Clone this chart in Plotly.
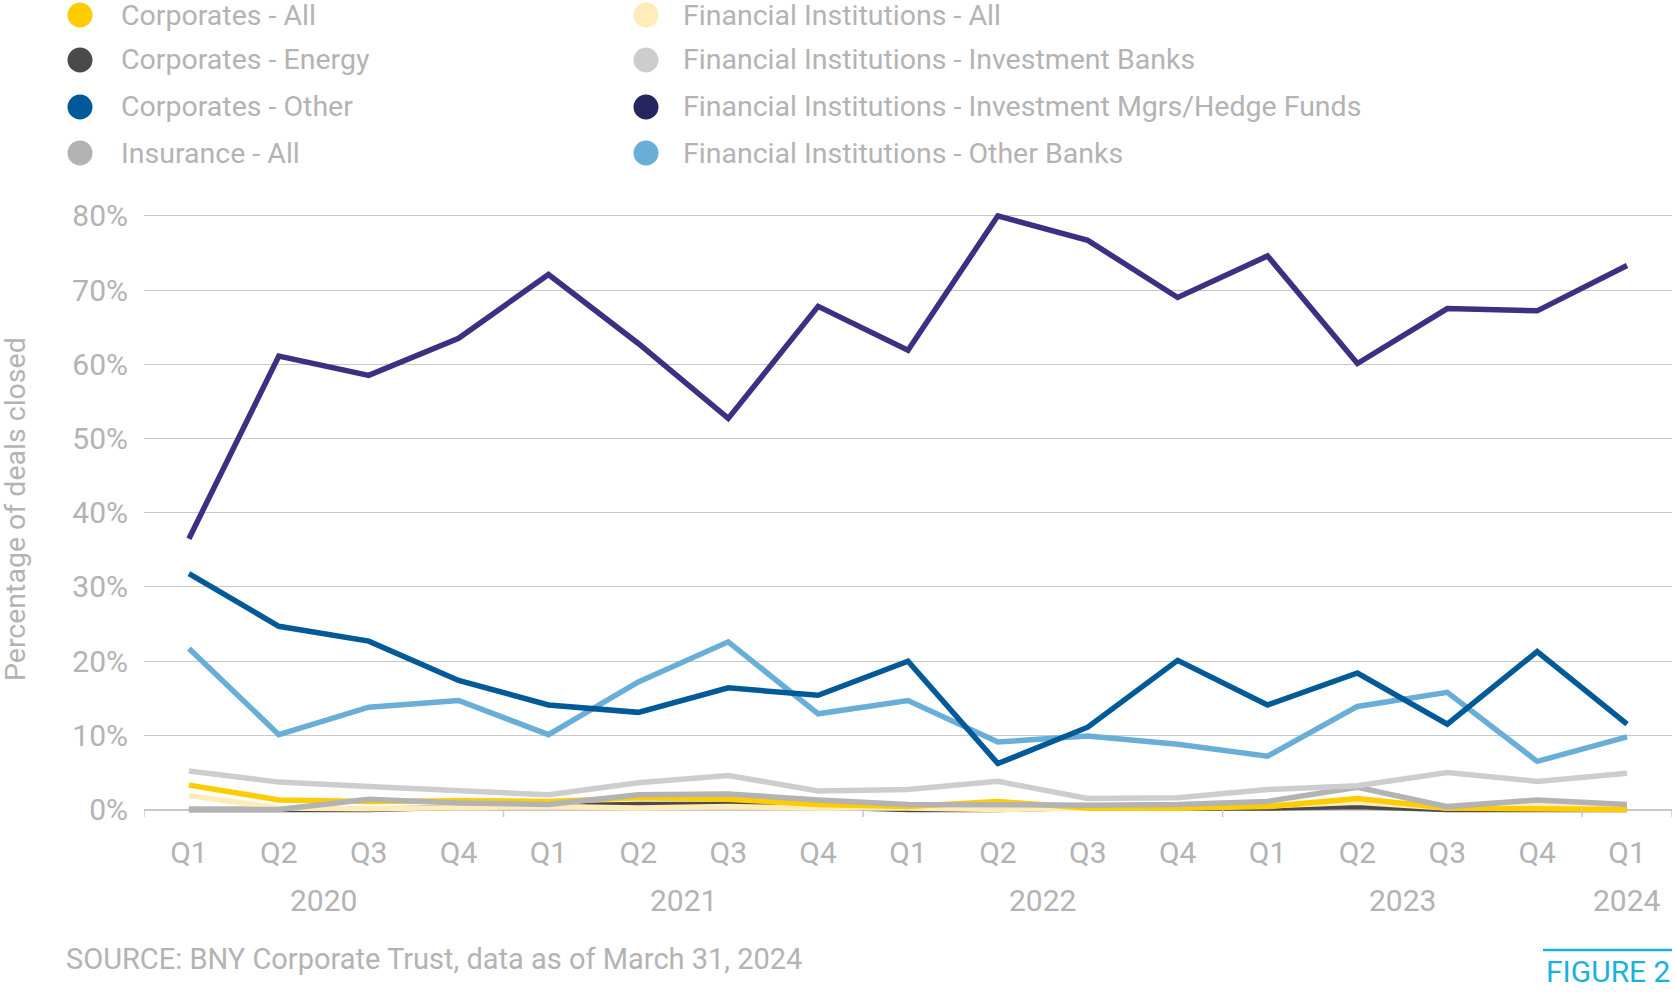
import plotly.graph_objects as go

# ---------------- data ----------------
years = ["2020", "2020", "2020", "2020",
         "2021", "2021", "2021", "2021",
         "2022", "2022", "2022", "2022",
         "2023", "2023", "2023", "2023",
         "2024"]
quarters = ["Q1", "Q2", "Q3", "Q4", "Q1", "Q2", "Q3", "Q4",
            "Q1", "Q2", "Q3", "Q4", "Q1", "Q2", "Q3", "Q4", "Q1"]

corporates_all = [3.3, 1.3, 1.1, 1.2, 1.1, 1.6, 1.4, 0.7, 0.4, 1.1, 0.2, 0.2, 0.4, 1.5, 0.2, 0.1, 0.0]
corporates_energy = [0.0, 0.0, 0.0, 0.3, 0.5, 0.7, 0.7, 0.4, 0.0, 0.0, 0.3, 0.2, 0.2, 0.4, 0.0, 0.0, 0.0]
corporates_other = [31.8, 24.7, 22.7, 17.4, 14.1, 13.1, 16.4, 15.4, 20.0, 6.2, 11.1, 20.1, 14.1, 18.4, 11.5, 21.3, 11.5]
insurance_all = [0.0, 0.0, 1.4, 0.9, 0.7, 2.0, 2.1, 1.3, 0.7, 0.6, 0.6, 0.7, 1.1, 3.0, 0.4, 1.3, 0.7]
fi_all = [1.9, 0.2, 0.1, 0.2, 0.4, 0.2, 0.4, 0.2, 0.2, 0.0, 0.2, 0.2, 0.5, 1.0, 0.2, 0.7, 0.4]
fi_investment_banks = [5.2, 3.7, 3.1, 2.6, 2.0, 3.6, 4.6, 2.5, 2.7, 3.8, 1.5, 1.6, 2.7, 3.2, 5.0, 3.8, 4.9]
fi_inv_mgrs = [36.5, 61.1, 58.5, 63.5, 72.1, 62.8, 52.7, 67.8, 61.9, 80.0, 76.7, 69.0, 74.6, 60.1, 67.5, 67.2, 73.3]
fi_other_banks = [21.7, 10.1, 13.8, 14.7, 10.1, 17.2, 22.6, 12.9, 14.7, 9.1, 9.9, 8.8, 7.2, 13.9, 15.8, 6.5, 9.8]

series_names = ["Corporates - All", "Corporates - Energy", "Corporates - Other", "Insurance - All",
                "Financial Institutions - All", "Financial Institutions - Investment Banks",
                "Financial Institutions - Investment Mgrs/Hedge Funds", "Financial Institutions - Other Banks"]
series_values = [corporates_all, corporates_energy, corporates_other, insurance_all,
                 fi_all, fi_investment_banks, fi_inv_mgrs, fi_other_banks]
line_colors = ["#ffcc00", "#4a4a4a", "#005a97", "#b3b3b3",
               "#ffecb8", "#cdcdcd", "#3a3182", "#68aed6"]
legend_colors = ["#ffcc00", "#4a4a4a", "#005a97", "#b3b3b3",
                 "#ffecb8", "#cdcdcd", "#27255f", "#68aed6"]
draw_order = [1, 4, 0, 3, 5, 7, 2, 6]

y_ticks = [0, 10, 20, 30, 40, 50, 60, 70, 80]

# ---------------- layout geometry ----------------
W, H = 1676, 992
L, R, T, B = 144, 4, 201, 175
PW, PH = W - L - R, H - T - B
FONT = "Roboto"
TXT = "#b3b3b3"
GRID = "#c8c8c8"


def px_x(px):
    return (px - L) / PW


def px_y(py):
    return (T + PH - py) / PH


x_idx = list(range(len(quarters)))

fig = go.Figure()
for i in draw_order:
    fig.add_trace(go.Scatter(
        x=x_idx, y=series_values[i], mode="lines", name=series_names[i],
        line=dict(color=line_colors[i], width=5.5), showlegend=False,
        hoverinfo="x+y+name"))

shapes = []
annotations = []

# manual legend (2 columns x 4 rows)
col_circle_x = [80, 646]
col_text_x = [119, 681]
row_y = [15, 60, 107, 153]
r = 12.5
for k, (name, color) in enumerate(zip(series_names, legend_colors)):
    c, rr = k // 4, k % 4
    cx, cy = col_circle_x[c], row_y[rr]
    shapes.append(dict(type="circle", xref="paper", yref="paper",
                       x0=px_x(cx - r), x1=px_x(cx + r),
                       y0=px_y(cy + r), y1=px_y(cy - r),
                       fillcolor=color, line=dict(width=0), layer="above"))
    annotations.append(dict(text=name, xref="paper", yref="paper",
                            x=px_x(col_text_x[c]), y=px_y(cy),
                            xanchor="left", yanchor="middle", showarrow=False,
                            font=dict(family=FONT, size=28.5, color=TXT)))

# year group labels and dividers
groups = []
for i, yv in enumerate(years):
    if not groups or groups[-1][0] != yv:
        groups.append([yv, i, i])
    else:
        groups[-1][2] = i
bounds = [groups[0][1] - 0.5] + [g[2] + 0.5 for g in groups]
for b in bounds:
    shapes.append(dict(type="line", xref="x", yref="y", ysizemode="pixel", yanchor=0,
                       x0=b, x1=b, y0=0, y1=-57,
                       line=dict(color=GRID, width=1.5)))
for g in groups:
    annotations.append(dict(text=g[0], xref="x", yref="paper",
                            x=(g[1] + g[2]) / 2, y=px_y(901),
                            xanchor="center", yanchor="middle", showarrow=False,
                            font=dict(family=FONT, size=30, color=TXT)))

# y axis title
annotations.append(dict(text="Percentage of deals closed", xref="paper", yref="paper",
                        x=px_x(15), y=px_y(509), textangle=-90,
                        xanchor="center", yanchor="middle", showarrow=False,
                        font=dict(family=FONT, size=28.5, color=TXT)))
# source
annotations.append(dict(text="SOURCE: BNY Corporate Trust, data as of March 31, 2024",
                        xref="paper", yref="paper", x=px_x(64), y=px_y(959),
                        xanchor="left", yanchor="middle", showarrow=False,
                        font=dict(family=FONT, size=29, color=TXT)))
# figure label
CYAN = "#19b2dd"
shapes.append(dict(type="line", xref="paper", yref="paper",
                   x0=px_x(1543), x1=px_x(1672), y0=px_y(950), y1=px_y(950),
                   line=dict(color=CYAN, width=2.5)))
annotations.append(dict(text="FIGURE 2", xref="paper", yref="paper",
                        x=px_x(1672), y=px_y(971),
                        xanchor="right", yanchor="middle", showarrow=False,
                        font=dict(family=FONT, size=30, color=CYAN)))

fig.update_layout(
    width=W, height=H,
    margin=dict(l=L, r=R, t=T, b=B, pad=0),
    paper_bgcolor="white", plot_bgcolor="white",
    font=dict(family=FONT, color=TXT),
    showlegend=False,
    shapes=shapes, annotations=annotations,
    xaxis=dict(range=[-0.5, len(quarters) - 0.5], tickmode="array",
               tickvals=x_idx, ticktext=quarters, showgrid=False, zeroline=False,
               showline=False, ticks="", ticklabelstandoff=15,
               tickfont=dict(family=FONT, size=30, color=TXT), fixedrange=True),
    yaxis=dict(range=[-1, 82], tickmode="array", tickvals=y_ticks,
               ticktext=[f"{v}%" for v in y_ticks], showgrid=True, gridcolor=GRID,
               gridwidth=1.3, zeroline=True, zerolinecolor=GRID, zerolinewidth=1.5,
               showline=False, ticks="", ticklabelstandoff=15,
               tickfont=dict(family=FONT, size=30, color=TXT), fixedrange=True),
)

fig.write_html("out.html",
               config={"displayModeBar": False},
               post_script="document.body.style.margin='0px';"
                           "document.body.style.overflow='hidden';")
